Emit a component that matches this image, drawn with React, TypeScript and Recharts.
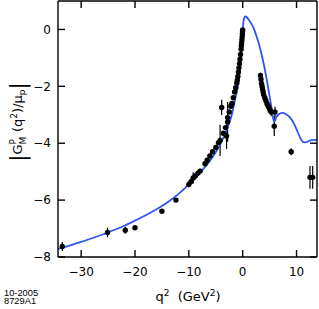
import { ComposedChart, Line, Scatter, ErrorBar, XAxis, YAxis } from "recharts";

const xTicks = [-30, -20, -10, 0, 10];
const yTicks = [-8, -6, -4, -2, 0];

// fit curve
const curveQ = [-34.3, -32, -30, -28, -26, -24, -22, -20, -18, -16, -14, -12, -10, -8, -6, -5, -4, -3, -2, -1.4, -1, -0.7, -0.4, -0.2, 0, 0.15, 0.35, 0.55, 0.8, 1.2, 1.6, 2, 2.5, 3, 3.5, 4, 4.5, 5, 5.4, 5.85, 6.2, 6.7, 7.3, 8, 8.8, 9.5, 10.2, 10.8, 11.4, 12, 12.8, 13.8];
const curveV = [-7.72, -7.59, -7.47, -7.34, -7.21, -7.06, -6.9, -6.72, -6.53, -6.32, -6.08, -5.8, -5.45, -5.05, -4.6, -4.32, -3.98, -3.55, -2.98, -2.45, -2.1, -1.75, -1.15, -0.6, -0.05, 0.28, 0.43, 0.46, 0.42, 0.32, 0.2, 0.06, -0.2, -0.5, -0.87, -1.3, -1.8, -2.35, -2.8, -3.27, -3.1, -2.98, -2.93, -2.97, -3.1, -3.3, -3.6, -3.85, -3.97, -3.95, -3.89, -3.88];

// measured points
const dataQ = [-33.5, -25.1, -21.8, -20, -15, -12.4, -10, -9.6, -9.2, -8.8, -8.3, -7.9, -7, -6.6, -6.1, -5.6, -5, -4.5, -4.2, -3.9, -3.6, -3.2, -3, -2.8, -2.8, -2.5, -2.2, -2, -1.75, -1.5, -1.3, -1.1, -1, -0.9, -0.8, -0.7, -0.6, -0.5, -0.4, -0.3, -0.25, -0.2, -0.15, -0.1, -0.06, -0.03, -0.01, 3.3, 3.4, 3.5, 3.6, 3.7, 3.8, 3.9, 4.1, 4.3, 4.5, 4.7, 4.9, 5.1, 5.3, 5.86, 6, 9, 12.5, 13];
const dataV = [-7.63, -7.14, -7.06, -6.97, -6.39, -6, -5.45, -5.35, -5.22, -5.15, -5.05, -4.98, -4.72, -4.6, -4.45, -4.3, -4.15, -3.98, -3.9, -2.74, -3.65, -3.45, -3.75, -3.25, -3.1, -2.9, -2.7, -2.6, -2.4, -2.2, -2.05, -1.88, -1.78, -1.65, -1.5, -1.35, -1.2, -1.05, -0.88, -0.7, -0.58, -0.48, -0.37, -0.26, -0.16, -0.08, -0.02, -1.62, -1.75, -1.9, -2, -2.1, -2.2, -2.3, -2.4, -2.5, -2.6, -2.68, -2.75, -2.85, -2.9, -3.4, -2.9, -4.3, -5.2, -5.2];
const dataErr = [0.16, 0.17, 0.12, 0.05, 0.05, 0.05, 0.1, 0.1, 0.2, 0.1, 0.1, 0.08, 0.08, 0.06, 0.06, 0.05, 0.05, 0.05, 0.55, 0.27, 0.05, 0.05, 0.45, 0.7, 0.04, 0.04, 0.03, 0.03, 0.03, 0.03, 0.03, 0.03, 0.03, 0.03, 0.03, 0.03, 0.03, 0.03, 0.03, 0.03, 0.03, 0.03, 0.03, 0.03, 0.03, 0.03, 0.03, 0.1, 0.1, 0.08, 0.08, 0.08, 0.08, 0.1, 0.1, 0.1, 0.1, 0.1, 0.1, 0.12, 0.15, 0.35, 0.18, 0.12, 0.4, 0.4];

const curve = curveQ.map((q, i) => ({ q, v: curveV[i] }));
const points = dataQ.map((q, i) => ({ q, v: dataV[i], e: dataErr[i] }));

const font = "'DejaVu Sans', sans-serif";
const tickStyle = { fill: "#000", fontSize: 12, fontFamily: font };
const minus = (v: number) => (v < 0 ? `\u2212${-v}` : `${v}`);
const xDomain = [-34.3, 13.8];
const yDomain = [-8, 1];

const Dot = (props: any) => <circle cx={props.cx} cy={props.cy} r={2.7} fill="#000" />;

export default function App() {
  return (
    <div style={{ position: "absolute", left: 0, top: 0, width: 319, height: 309, background: "#fff" }}>
      <ComposedChart width={319} height={309} margin={{ top: 0, right: 1, bottom: 0, left: 0 }}>
        <XAxis xAxisId="b" type="number" dataKey="q" domain={xDomain} ticks={xTicks} allowDataOverflow
          height={52} tickSize={-7} tickMargin={17} tick={tickStyle} tickFormatter={minus}
          stroke="#000" strokeWidth={1.4} />
        <XAxis xAxisId="t" orientation="top" type="number" dataKey="q" domain={xDomain} ticks={xTicks} allowDataOverflow
          height={1} tickSize={-7} tickFormatter={() => ""} stroke="#000" strokeWidth={1.4} />
        <YAxis yAxisId="l" type="number" dataKey="v" domain={yDomain} ticks={yTicks} allowDataOverflow
          width={58} tickSize={-7} tickMargin={14} tick={tickStyle} tickFormatter={minus}
          stroke="#000" strokeWidth={1.4} />
        <YAxis yAxisId="r" orientation="right" type="number" dataKey="v" domain={yDomain} ticks={yTicks} allowDataOverflow
          width={1} tickSize={-7} tickFormatter={() => ""} stroke="#000" strokeWidth={1.4} />
        <Scatter xAxisId="b" yAxisId="l" data={points} dataKey="v" fill="#000" shape={Dot} isAnimationActive={false}>
          <ErrorBar dataKey="e" direction="y" width={0} stroke="#000" strokeWidth={1.2} isAnimationActive={false} />
        </Scatter>
        <Line xAxisId="b" yAxisId="l" data={curve} dataKey="v" type="monotone" dot={false}
          stroke="#2f55f6" strokeWidth={1.8} isAnimationActive={false} />
      </ComposedChart>
      <svg width={319} height={309} style={{ position: "absolute", left: 0, top: 0, pointerEvents: "none" }}>
        <g transform="rotate(-90 22 122)">
          <text x={22} y={122} textAnchor="middle" fontFamily={font} fontSize={13} fill="#000">
            <tspan fontSize={21} dy={3}>|</tspan>
            <tspan dy={-3}>G</tspan>
            <tspan fontSize={9} dy={4}>M</tspan>
            <tspan fontSize={9} dx={-7.8} dy={-10}>P</tspan>
            <tspan dx={3} dy={6}> (q</tspan>
            <tspan fontSize={9} dy={-5}>2</tspan>
            <tspan dy={5}>)/μ</tspan>
            <tspan fontSize={9} dy={3}>p</tspan>
            <tspan fontSize={21} dy={0}>|</tspan>
          </text>
        </g>
        <text x={188} y={301} textAnchor="middle" fontFamily={font} fontSize={13} fill="#000">
          q<tspan fontSize={9} dy={-5}>2</tspan>
          <tspan dy={5} xmlSpace="preserve">{"  (GeV"}</tspan>
          <tspan fontSize={9} dy={-5}>2</tspan>
          <tspan dy={5}>)</tspan>
        </text>
        <text x={4} y={295.5} fontFamily="'Liberation Sans', Arial, sans-serif" fontSize={9.3} fill="#000">10-2005</text>
        <text x={4} y={304} fontFamily="'Liberation Sans', Arial, sans-serif" fontSize={9.3} fill="#000">8729A1</text>
      </svg>
    </div>
  );
}
